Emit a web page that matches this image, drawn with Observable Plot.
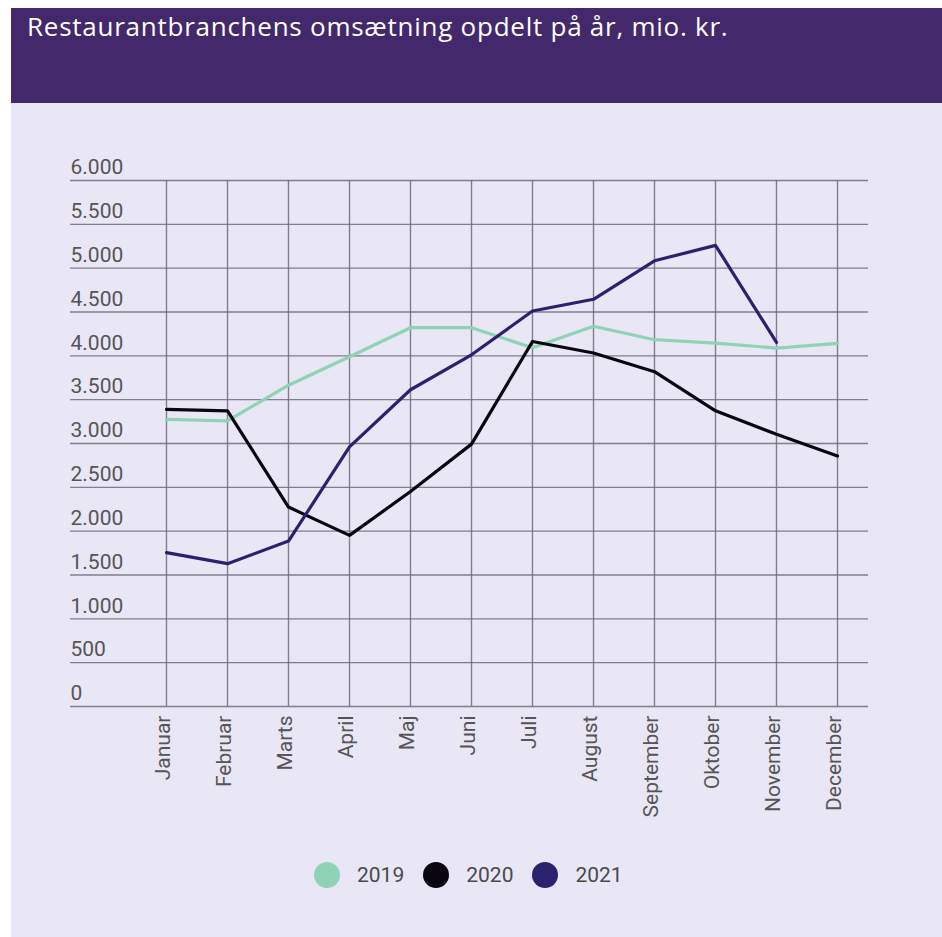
<!DOCTYPE html>
<html><head><meta charset="utf-8">
<script src="https://cdn.jsdelivr.net/npm/d3@7"></script>
<script src="https://cdn.jsdelivr.net/npm/@observablehq/plot@0.6"></script>
<style>
html,body{margin:0;padding:0;background:#fff;}
#card{position:absolute;left:11px;top:8px;width:931px;height:929px;background:#e9e6f5;overflow:hidden;}
#header{position:absolute;left:0;top:0;width:931px;height:95px;background:#43286c;}
#title{position:absolute;left:16px;top:5px;line-height:26px;font-family:"Open Sans";font-size:26px;letter-spacing:0.75px;color:#fff;white-space:nowrap;}
#chart{position:absolute;left:0;top:95px;}
#legend{position:absolute;left:303px;top:854px;display:flex;align-items:center;height:26px;font-family:Roboto;font-size:21px;color:#4a4a4a;}
.sw{width:26px;height:26px;border-radius:50%;margin-right:17px;}
.lab{margin-right:19px;}
</style>
</head><body>
<div id="card">
  <div id="header"><div id="title">Restaurantbranchens omsætning opdelt på år, mio. kr.</div></div>
  <div id="chart"></div>
  <div id="legend"></div>
</div>
<script>
const months = ["Januar","Februar","Marts","April","Maj","Juni","Juli","August","September","Oktober","November","December"];
const years = ["2019","2020","2021"];
const v2019 = [3275, 3258, 3665, 3990, 4321, 4321, 4092, 4338, 4184, 4146, 4089, 4142];
const v2020 = [3390, 3372, 2275, 1952, 2452, 2993, 4164, 4032, 3819, 3373, 3105, 2857];
const v2021 = [1755, 1629, 1887, 2962, 3613, 4012, 4511, 4645, 5084, 5260, 4154];
const colors = ["#8fd3b6", "#0a0610", "#2b226f"];
const yTicks = [0, 500, 1000, 1500, 2000, 2500, 3000, 3500, 4000, 4500, 5000, 5500, 6000];
const yTickLabels = ["0","500","1.000","1.500","2.000","2.500","3.000","3.500","4.000","4.500","5.000","5.500","6.000"];

const series = [v2019, v2020, v2021];
const rows = [];
series.forEach((vals, i) => vals.forEach((v, j) => rows.push({month: months[j], year: years[i], value: v})));

const gridColor = "#6f6b7a";
const chart = Plot.plot({
  width: 931, height: 735,
  marginLeft: 59, marginRight: 74, marginTop: 77, marginBottom: 132,
  style: {background: "transparent", fontFamily: "Roboto", overflow: "visible"},
  x: {type: "point", domain: months, padding: 0, insetLeft: 95.5, insetRight: 30.5, axis: null},
  y: {domain: [0, 6000], axis: null},
  color: {domain: years, range: colors},
  marks: [
    Plot.ruleY(yTicks, {stroke: gridColor, strokeWidth: 1.4, strokeOpacity: 0.85}),
    Plot.ruleX(months, {y1: 0, y2: 6000, stroke: gridColor, strokeWidth: 1.4, strokeOpacity: 0.85}),
    Plot.text(yTicks, {y: d => d, text: (d, i) => yTickLabels[i], frameAnchor: "left", textAnchor: "start", dy: -13, fontSize: 21, fill: "#555"}),
    Plot.text(months, {x: d => d, text: d => d, frameAnchor: "bottom", rotate: -90, textAnchor: "end", dx: 3, dy: 9, fontSize: 21, fill: "#555"}),
    Plot.line(rows, {x: "month", y: "value", z: "year", stroke: "year", strokeWidth: 3.2})
  ]
});
document.getElementById("chart").appendChild(chart);

const legend = document.getElementById("legend");
years.forEach((y, i) => {
  const s = document.createElement("div"); s.className = "sw"; s.style.background = colors[i];
  const t = document.createElement("div"); t.className = "lab"; t.textContent = y;
  legend.appendChild(s); legend.appendChild(t);
});
</script>
</body></html>
